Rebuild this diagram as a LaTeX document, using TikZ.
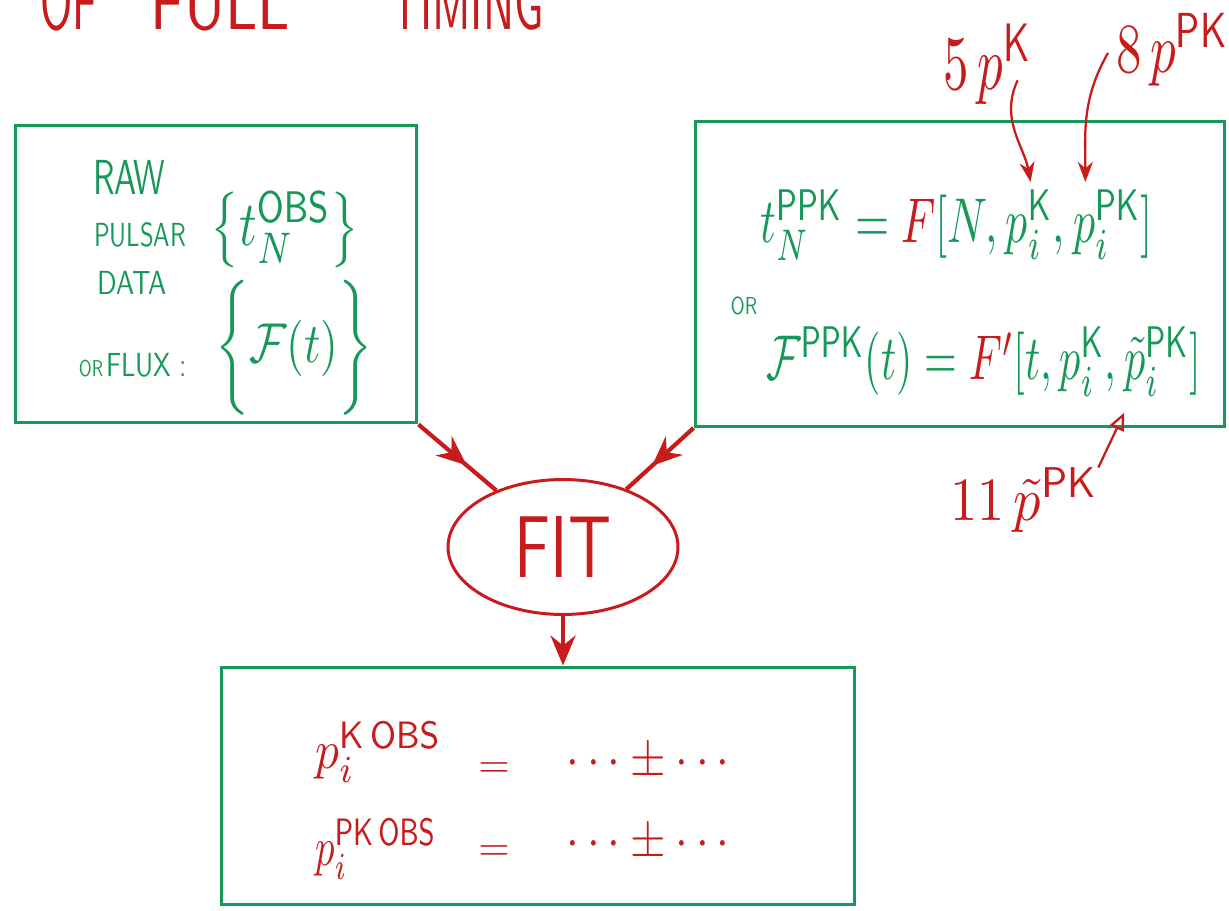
\documentclass[tikz,border=0pt]{standalone}
\usepackage{amsmath}
\usepackage{amssymb}
\usepackage{graphicx}
\usepackage{tikz}
\usetikzlibrary{shapes.geometric, arrows.meta, positioning, calc, decorations.markings}
\usepackage{xcolor}
\definecolor{penGreen}{RGB}{22,152,88}
\definecolor{penRed}{RGB}{200,28,28}

\begin{document}
\begin{tikzpicture}[
    x=0.02cm, y=0.02cm,
    panel/.style = {rectangle, draw=penGreen, line width=1.7pt, inner sep=0pt},
    blob/.style = {ellipse, draw=penRed, line width=1.7pt, minimum width=4.6cm, minimum height=2.7cm, inner sep=0pt, text=penRed, font=\sffamily},
    grn/.style = {text=penGreen, inner sep=0pt, font=\sffamily},
    rd/.style = {text=penRed, inner sep=0pt, font=\sffamily},
    flow/.style = {penRed, line width=2.4pt},
    midtip/.style = {postaction={decorate}, decoration={markings, mark=at position #1 with {\arrow{Stealth[length=6mm, width=5mm, inset=2mm]}}}},
    ptr/.style = {penRed, line width=1.3pt, -{Stealth[length=4mm, width=3mm]}},
    ptropen/.style = {penRed, line width=1.3pt, -{Triangle[open, length=3.5mm, width=3mm]}},
  ]
  \useasboundingbox (0,0) rectangle (1229,910);
  \clip (0,0) rectangle (1229,910);

  % heading, cut at the top edge
  \foreach \word/\xpos/\sx [count=\k] in {OF/40/2.5, FULL/150/3.4, TIMING/390/2.5}
    \node[rd, anchor=base west] (head\k) at (\xpos,880) {\scalebox{\sx}[4.4]{\word}};

  % boxes
  \node[panel, minimum width=8.04cm, minimum height=5.96cm] (raw) at (216,636) {};
  \node[panel, minimum width=10.6cm, minimum height=6.1cm] (model) at (960,636) {};
  \node[blob] (fit) at (563,363) {\scalebox{3.6}[5]{FIT}};
  \node[panel, minimum width=12.66cm, minimum height=4.76cm] (res) at (538,124) {};

  % raw data
  \node[grn] (lraw) at (129,733) {\scalebox{1.9}[2.8]{RAW}};
  \node[grn] (lpulsar) at (140,675) {\scalebox{1.4}[1.9]{PULSAR}};
  \node[grn] (ldata) at (132,627) {\scalebox{1.55}[1.9]{DATA}};
  \node[grn] (lflux) at (133,545) {\scalebox{1}[1.3]{OR}\,\scalebox{1.5}[1.9]{FLUX :}};
  \node[grn] (tobs) at (285,680) {\scalebox{2.8}[3.6]{$\left\{ t_N^{\mathsf{OBS}} \right\}$}};
  \node[grn] (flux) at (294,562) {\scalebox{2.6}[3.2]{$\biggl\{ \mathcal{F}(t) \biggr\}$}};

  % timing formula
  \node[grn, anchor=base west] (eqA) at (760,667) {\scalebox{2.5}[3.6]{$t_N^{\mathsf{PPK}} = {\color{penRed}F}[N,$}};
  \node[grn, anchor=base west] (eqB) at (eqA.base east) {\scalebox{2.5}[3.6]{$\,p_i^{\mathsf{K}},$}};
  \node[grn, anchor=base west] (eqC) at (eqB.base east) {\scalebox{2.5}[3.6]{$\,p_i^{\mathsf{PK}}]$}};
  \node[grn] (orword) at (744,604) {\scalebox{1.1}[1.4]{OR}};
  \node[grn, anchor=base west] (eqD) at (766,530) {\scalebox{2.4}[3.6]{$\mathcal{F}^{\mathsf{PPK}}(t) = {\color{penRed}F'}[t, p_i^{\mathsf{K}},$}};
  \node[grn, anchor=base west] (eqE) at (eqD.base east) {\scalebox{2.4}[3.6]{$\,\tilde{p}_i^{\mathsf{PK}}]$}};

  % parameter counts
  \node[rd, anchor=base] (lab5) at (988,820) {\scalebox{2.9}[4.4]{$5\,p^{\mathsf{K}}$}};
  \node[rd, anchor=base west] (lab8) at (1116,837) {\scalebox{2.9}[4]{$8\,p^{\mathsf{PK}}$}};
  \node[rd, anchor=base west] (lab11) at (950,390) {\scalebox{3.1}[3.5]{$11\,\tilde{p}^{\mathsf{PK}}$}};

  % results
  \node[rd, anchor=base west] (pk) at (315,142) {\scalebox{2.7}[3.1]{$p_i^{\mathsf{K\,OBS}}$}};
  \node[rd] (eq1) at (494,140) {\scalebox{2.3}[2.3]{$=$}};
  \node[rd] (val1) at (652,148) {\scalebox{2.6}[3]{$\cdots \pm \cdots$}};
  \node[rd, anchor=base west] (ppk) at (315,45) {\scalebox{2.2}[3.1]{$p_i^{\mathsf{PK\,OBS}}$}};
  \node[rd] (eq2) at (494,57) {\scalebox{2.3}[2.3]{$=$}};
  \node[rd] (val2) at (652,67) {\scalebox{2.6}[3]{$\cdots \pm \cdots$}};

  % arrows
  \draw[flow, midtip=0.62] (raw.south east) -- (fit);
  \draw[flow, midtip=0.62] (model.south west) -- (fit);
  \draw[flow, -{Stealth[length=6mm, width=5mm, inset=2mm]}] (fit.south) -- (fit.south |- res.north);
  \draw[ptr, shorten >=4pt] ($(lab5.south east)+(-15,25)$) to[out=-115, in=100] (eqB.north);
  \draw[ptr, shorten >=4pt] ($(lab8.base west)+(-8,20)$) to[out=-120, in=90] ($(eqC.north west)+(20,0)$);
  \draw[ptropen, shorten >=10pt] (lab11.north east) -- ($(eqE.south west)+(15,0)$);
\end{tikzpicture}
\end{document}
